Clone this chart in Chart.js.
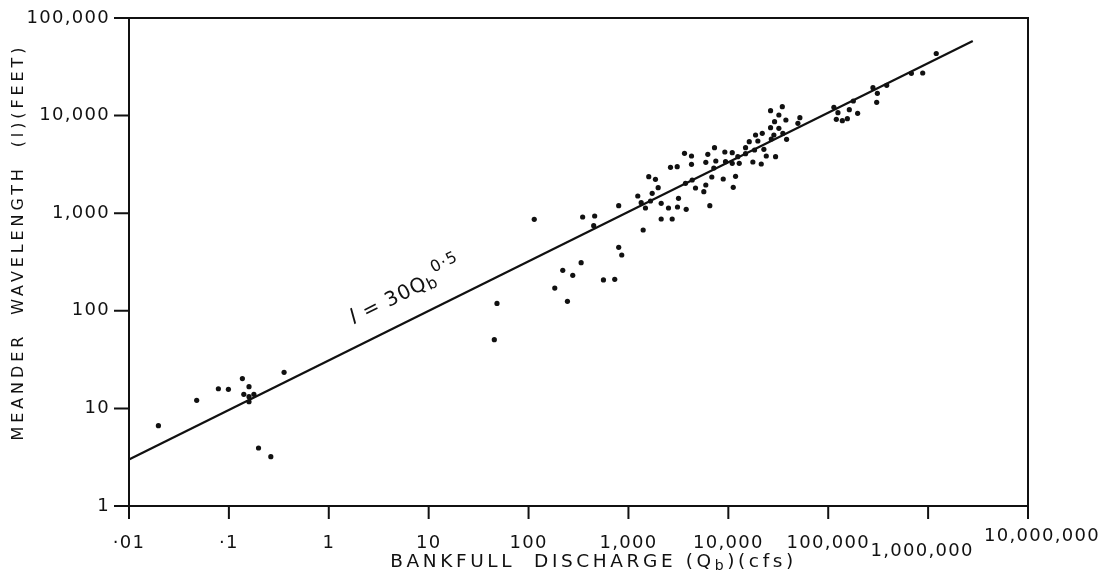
<!DOCTYPE html>
<html>
<head>
<meta charset="utf-8">
<script src="https://cdn.jsdelivr.net/npm/chart.js@4"></script>
<style>
  html, body { margin: 0; padding: 0; background: #fff; }
  #wrap { width: 1115px; height: 586px; position: relative; }
</style>
</head>
<body>
<div id="wrap"><canvas id="chart"></canvas></div>
<script>
// bankfull discharge (cfs) and meander wavelength (feet)
const qValues = [
  0.0197, 0.0476, 0.0785, 0.0989, 0.1365, 0.159, 0.141, 0.159, 0.178, 0.159, 0.357, 0.198, 0.263,
  45.4, 48.3, 114, 183, 220, 245, 277, 336, 348, 459, 449, 562, 729,
  799, 799, 857, 1240, 1341, 1480, 1404, 1597, 1864, 1728,
  1662, 1984, 2127, 2127, 2517, 2741, 2636, 3076, 3170, 3097,
  3640, 3786, 3725, 4348, 4278, 4278, 4692, 5681, 5949, 5949,
  6230, 6525, 6833, 7271, 7155, 7492, 8889, 9224, 9374, 10940,
  10940, 11200, 11810, 12450, 12860, 14870, 14870, 16200, 17600, 18730,
  18300, 19750, 21360, 21860, 22680, 23980, 26480, 26480, 26910, 29030,
  28570, 29710, 32060, 32060, 34690, 35170, 37690, 38300, 49710, 52050,
  114000, 125100, 120500, 138500, 155400, 162700, 178400, 197000,
  280500, 305500, 310500, 384800, 680100, 882800, 1206000
];
const lValues = [
  6.65, 12.1, 15.9, 15.7, 20.2, 16.7, 13.95, 13.2, 13.95, 11.7, 23.4, 3.93, 3.2,
  50.6, 119, 866, 171, 260, 125, 231, 311, 914, 936, 745, 207, 210,
  1193, 447, 373, 1500, 1281, 1130, 673, 2366, 2225, 1599,
  1334, 1825, 1263, 872, 1130, 872, 2953, 2995, 1421, 1157,
  4110, 1096, 2025, 2189, 3856, 3170, 1813, 1661, 1945, 3322,
  4014, 1193, 2349, 4690, 2904, 3426, 2241, 4236, 3371, 4168,
  3245, 1843, 2388, 3793, 3245, 4690, 4071, 5403, 3346, 6329,
  4441, 5494, 3192, 6587, 4516, 3856, 11230, 7516, 5758, 8659,
  6329, 3793, 10140, 7411, 12340, 6587, 9013, 5718, 8339, 9517,
  12160, 10710, 9165, 8866, 9294, 11500, 14110, 10560,
  19310, 13690, 16920, 20440, 27130, 27320, 43280
];

// fitted line l = 30 Qb^0.5, end points as drawn
const lineQ = [0.01, 2800000];
const lineL = [3, 58000];

const xTickValues = [0.01, 0.1, 1, 10, 100, 1000, 10000, 100000, 1000000, 10000000];
const xTickLabels = ['·01', '·1', '1', '10', '100', '1,000', '10,000', '100,000', '1,000,000', '10,000,000'];
const yTickValues = [1, 10, 100, 1000, 10000, 100000];
const yTickLabels = ['1', '10', '100', '1,000', '10,000', '100,000'];

const INK = '#111';
const FONT = '"DejaVu Sans", sans-serif';

// the two biggest labels sit off the common baseline in the original
const xLabelShift = { 1000000: [-6, 8], 10000000: [14, -7] };

function runsWidth(ctx, runs) {
  let w = 0;
  runs.forEach((r) => {
    ctx.font = r.font;
    w += ctx.measureText(r.text).width;
  });
  return w;
}

function drawRuns(ctx, runs, x, y) {
  runs.forEach((r) => {
    ctx.font = r.font;
    ctx.fillText(r.text, x, y + (r.dy || 0));
    x += ctx.measureText(r.text).width;
  });
}

const axesPlugin = {
  id: 'handAxes',
  afterDraw(chart) {
    const { ctx, chartArea: a } = chart;
    const xs = chart.scales.x;
    const ys = chart.scales.y;

    ctx.save();
    ctx.strokeStyle = INK;
    ctx.fillStyle = INK;
    ctx.lineWidth = 2;
    ctx.strokeRect(a.left, a.top, a.right - a.left, a.bottom - a.top);

    ctx.beginPath();
    yTickValues.forEach((v) => {
      const py = ys.getPixelForValue(v);
      ctx.moveTo(a.left - 15, py);
      ctx.lineTo(a.left, py);
    });
    xTickValues.forEach((v) => {
      const px = xs.getPixelForValue(v);
      ctx.moveTo(px, a.bottom);
      ctx.lineTo(px, a.bottom + 13);
    });
    ctx.stroke();

    ctx.font = '18px ' + FONT;
    ctx.letterSpacing = '1.3px';
    ctx.textAlign = 'right';
    ctx.textBaseline = 'middle';
    yTickLabels.forEach((t, i) => {
      ctx.fillText(t, a.left - 19, ys.getPixelForValue(yTickValues[i]));
    });

    ctx.textAlign = 'center';
    ctx.textBaseline = 'alphabetic';
    xTickLabels.forEach((t, i) => {
      const v = xTickValues[i];
      const s = xLabelShift[v] || [0, 0];
      ctx.fillText(t, xs.getPixelForValue(v) + s[0], a.bottom + 42 + s[1]);
    });

    // x title, with subscript b
    ctx.textAlign = 'left';
    ctx.letterSpacing = '3.6px';
    const xTitle = [
      { text: 'BANKFULL  DISCHARGE (Q', font: '18.5px ' + FONT },
      { text: 'b', font: '14px ' + FONT, dy: 3 },
      { text: ')(cfs)', font: '18.5px ' + FONT }
    ];
    const xw = runsWidth(ctx, xTitle);
    drawRuns(ctx, xTitle, (a.left + a.right) / 2 + 15 - xw / 2, a.bottom + 61);

    // y title
    ctx.save();
    ctx.translate(23, (a.top + a.bottom) / 2 - 20);
    ctx.rotate(-Math.PI / 2);
    ctx.font = '16px ' + FONT;
    ctx.letterSpacing = '3.9px';
    ctx.textAlign = 'center';
    ctx.fillText('MEANDER  WAVELENGTH  (l)(FEET)', 0, 0);
    ctx.restore();

    // equation along the fitted line
    const pts = chart.getDatasetMeta(1).data;
    const ang = Math.atan2(pts[1].y - pts[0].y, pts[1].x - pts[0].x);
    const ax = xs.getPixelForValue(2.2);
    const ay = pts[0].y + (ax - pts[0].x) * Math.tan(ang);
    ctx.save();
    ctx.translate(ax, ay);
    ctx.rotate(ang);
    ctx.letterSpacing = '1px';
    drawRuns(ctx, [
      { text: 'l', font: 'italic 21px ' + FONT },
      { text: ' = 30Q', font: '20px ' + FONT },
      { text: 'b', font: '16px ' + FONT, dy: 3 },
      { text: '0·5', font: '16px ' + FONT, dy: -11 }
    ], 0, -21);
    ctx.restore();

    ctx.restore();
  }
};

new Chart(document.getElementById('chart'), {
  type: 'scatter',
  data: {
    datasets: [
      {
        label: 'Observed',
        data: qValues.map((q, i) => ({ x: q, y: lValues[i] })),
        pointRadius: 2.6,
        pointBackgroundColor: INK,
        pointBorderWidth: 0
      },
      {
        label: 'l = 30Qb^0.5',
        data: lineQ.map((q, i) => ({ x: q, y: lineL[i] })),
        showLine: true,
        borderColor: INK,
        borderWidth: 2.2,
        pointRadius: 0
      }
    ]
  },
  options: {
    animation: false,
    responsive: true,
    maintainAspectRatio: false,
    layout: {
      padding: { left: 129, top: 18, right: 87, bottom: 80 }
    },
    plugins: {
      legend: { display: false },
      tooltip: { enabled: false }
    },
    scales: {
      x: { type: 'logarithmic', min: 0.01, max: 10000000, display: false },
      y: { type: 'logarithmic', min: 1, max: 100000, display: false }
    }
  },
  plugins: [axesPlugin]
});
</script>
</body>
</html>
